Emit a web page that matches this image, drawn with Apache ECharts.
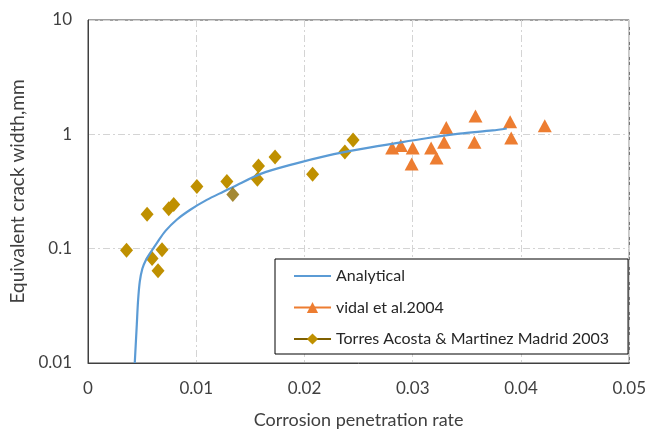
<!DOCTYPE html>
<html>
<head>
<meta charset="utf-8">
<script src="https://cdn.jsdelivr.net/npm/echarts@6/dist/echarts.min.js"></script>
<style>
html,body{margin:0;padding:0;background:#fff;}
#chart{width:649px;height:434px;}
</style>
</head>
<body>
<div id="chart"></div>
<script>
// Analytical curve
const analyticalX = [0.00432, 0.00451, 0.00462, 0.00478, 0.00502, 0.00533, 0.00579, 0.00639, 0.00716, 0.00822, 0.00945, 0.01097, 0.01250, 0.01342, 0.01601, 0.01907, 0.02212, 0.02517, 0.02822, 0.03127, 0.03432, 0.03738, 0.03869];
const analyticalY = [0.0100, 0.0218, 0.0345, 0.0513, 0.0668, 0.0789, 0.0929, 0.113, 0.143, 0.180, 0.219, 0.267, 0.315, 0.347, 0.453, 0.552, 0.652, 0.743, 0.830, 0.924, 1.014, 1.082, 1.125];

// vidal et al.2004
const vidalX = [0.0281, 0.0289, 0.0300, 0.0299, 0.0317, 0.0322, 0.0329, 0.0331, 0.0357, 0.0358, 0.0390, 0.0391, 0.0422];
const vidalY = [0.758, 0.80, 0.758, 0.549, 0.758, 0.622, 0.853, 1.15, 0.853, 1.45, 1.29, 0.93, 1.19];

// Torres Acosta & Martinez Madrid 2003
const torresX = [0.00356, 0.00546, 0.00592, 0.00647, 0.00684, 0.00746, 0.00792, 0.01006, 0.01283, 0.01565, 0.01575, 0.01728, 0.02075, 0.02373, 0.02449];
const torresY = [0.0967, 0.200, 0.082, 0.064, 0.098, 0.223, 0.244, 0.350, 0.386, 0.405, 0.528, 0.634, 0.447, 0.70, 0.893];
// darker-shaded Torres point
const torresDarkX = [0.01338];
const torresDarkY = [0.297];

const xTicks = [0, 0.01, 0.02, 0.03, 0.04, 0.05];
const yTicks = [0.01, 0.1, 1, 10];

const zip = (xs, ys) => xs.map((x, i) => [x, ys[i]]);

const font = 'Lato, "Open Sans", sans-serif';
const gridLine = {show: true, lineStyle: {color: '#d4d4d4', width: 1, type: [7, 3, 2, 3]}};

const chart = echarts.init(document.getElementById('chart'), null, {renderer: 'canvas'});
chart.setOption({
  animation: false,
  backgroundColor: '#fff',
  textStyle: {fontFamily: font},
  grid: {left: 88, right: 16, top: 20, bottom: 65, show: true, borderColor: '#404040', borderWidth: 1, containLabel: false},
  xAxis: {
    type: 'value', min: xTicks[0], max: xTicks[xTicks.length - 1], interval: 0.01,
    name: 'Corrosion penetration rate', nameLocation: 'middle', nameGap: 48,
    nameTextStyle: {fontSize: 18, color: '#404040', fontFamily: font},
    axisLine: {show: true, lineStyle: {color: '#404040'}},
    axisTick: {show: false},
    axisLabel: {fontSize: 17, color: '#404040', margin: 17, fontFamily: font,
      formatter: v => { const t = xTicks.find(k => Math.abs(k - v) < 1e-9); return t === undefined ? '' : String(t); }},
    splitLine: gridLine
  },
  yAxis: {
    type: 'log', logBase: 10, min: yTicks[0], max: yTicks[yTicks.length - 1],
    name: 'Equivalent crack width,mm', nameLocation: 'middle', nameGap: 57, nameRotate: 90,
    nameTextStyle: {fontSize: 19, color: '#404040', fontFamily: font},
    axisLine: {show: true, lineStyle: {color: '#404040'}},
    axisTick: {show: false},
    axisLabel: {fontSize: 17, color: '#404040', margin: 16, fontFamily: font,
      formatter: v => { const t = yTicks.find(k => Math.abs(k - v) / k < 1e-6); return t === undefined ? '' : String(t); }},
    splitLine: gridLine
  },
  legend: {
    orient: 'vertical', left: 275, top: 259,
    padding: [9, 19, 7, 18],
    borderColor: '#000', borderWidth: 1, backgroundColor: '#fff',
    itemWidth: 37, itemHeight: 14, itemGap: 15.5,
    textStyle: {fontSize: 16, color: '#262626', fontFamily: font},
    data: [
      {name: 'Analytical', itemStyle: {opacity: 0}, lineStyle: {color: '#5B9BD5', width: 2, opacity: 1}},
      {name: 'vidal et al.2004', lineStyle: {color: '#ED7D31', width: 2, opacity: 1}},
      {name: 'Torres Acosta & Martinez Madrid 2003', lineStyle: {color: '#7F6000', width: 2, opacity: 1}}
    ]
  },
  series: [
    {
      name: 'Analytical', type: 'line', data: zip(analyticalX, analyticalY),
      showSymbol: false, symbol: 'none', smooth: 0.3,
      lineStyle: {color: '#5B9BD5', width: 2.2}, itemStyle: {color: '#5B9BD5'}, z: 3
    },
    {
      name: 'vidal et al.2004', type: 'line', data: zip(vidalX, vidalY),
      symbol: 'triangle', symbolSize: [14, 13], showSymbol: true,
      lineStyle: {opacity: 0, color: '#ED7D31'}, itemStyle: {color: '#ED7D31'}, z: 2
    },
    {
      name: 'Torres Acosta & Martinez Madrid 2003', type: 'line', data: zip(torresX, torresY),
      symbol: 'diamond', symbolSize: [13, 15], showSymbol: true,
      lineStyle: {opacity: 0, color: '#7F6000'}, itemStyle: {color: '#BF9000'}, z: 2
    },
    {
      name: 'Torres dark', type: 'scatter', data: zip(torresDarkX, torresDarkY),
      symbol: 'diamond', symbolSize: [13, 15],
      itemStyle: {color: '#8C6A00'}, z: 4
    }
  ]
});
</script>
</body>
</html>
